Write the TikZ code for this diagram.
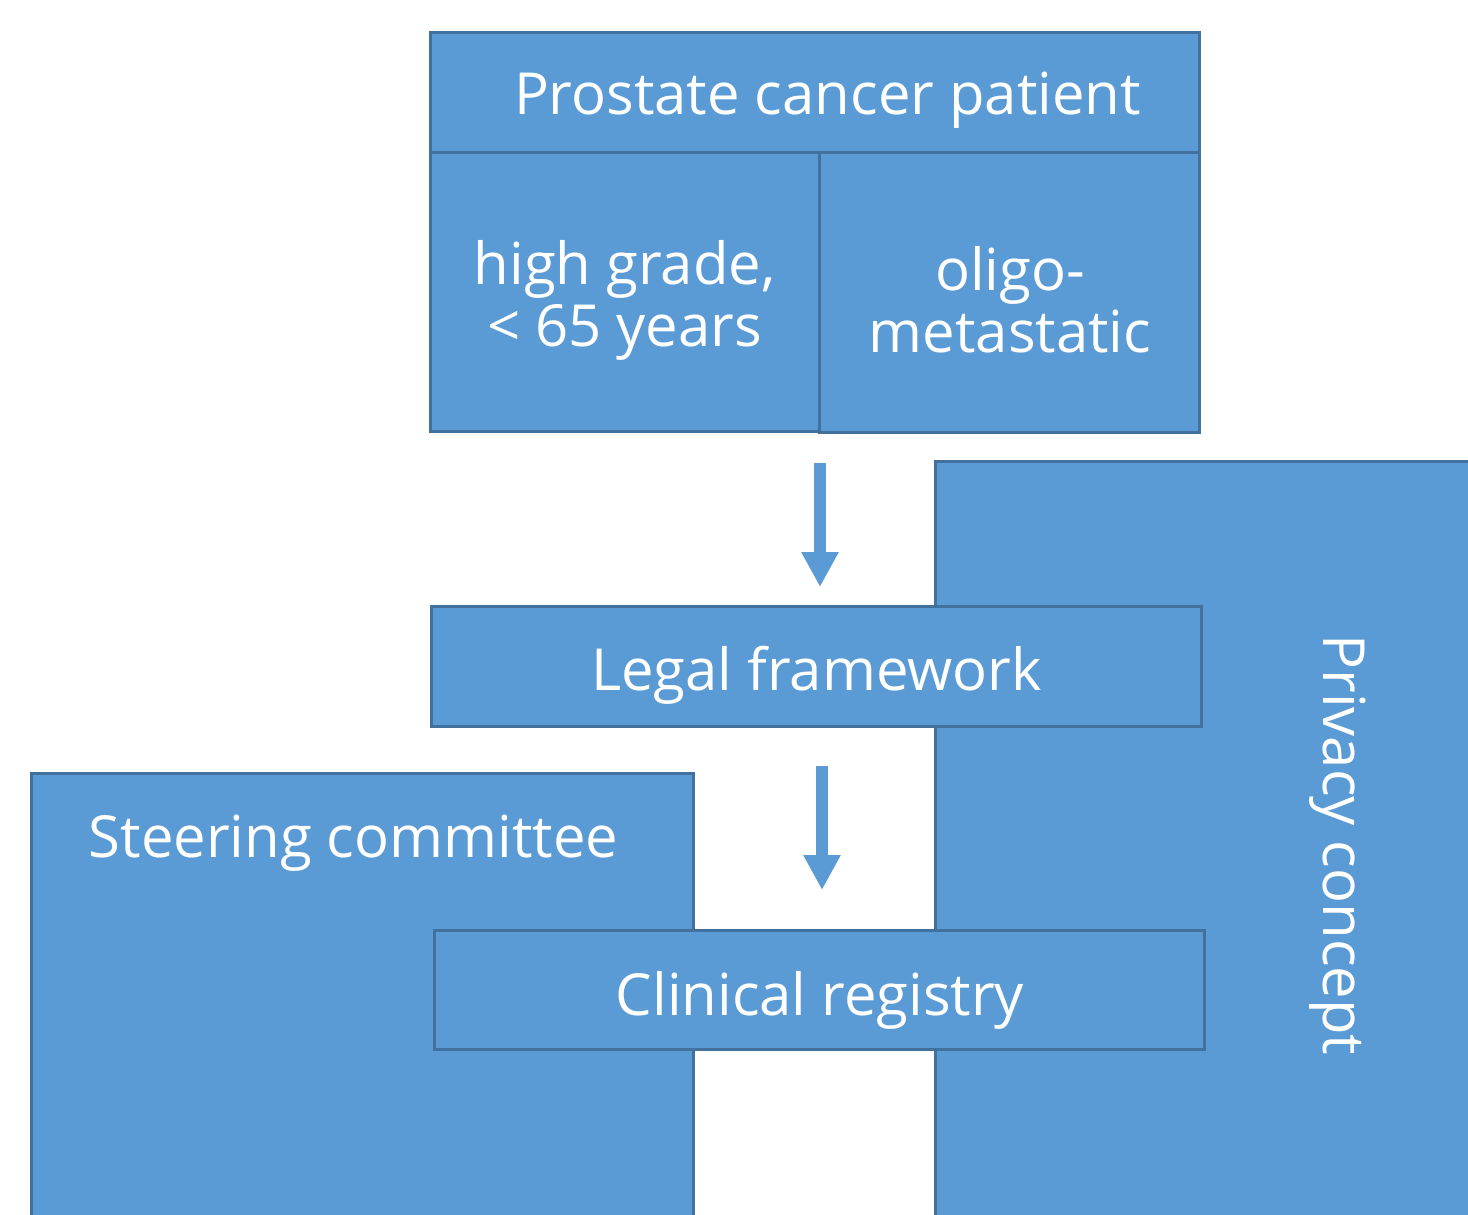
\documentclass[tikz,border=0pt]{standalone}
\usepackage{fontspec}
\setmainfont{Open Sans}
\usetikzlibrary{arrows.meta}
\definecolor{boxfill}{HTML}{5B9BD5}
\definecolor{boxline}{HTML}{41719C}
\begin{document}
\begin{tikzpicture}[x=0.5pt,y=-0.5pt,
  box/.style={draw=boxline,fill=boxfill,line width=1.5pt,inner sep=0pt,rectangle},
  lbl/.style={text=white,inner sep=0pt,align=center,font=\fontsize{29}{31}\selectfont},
  flow/.style={draw=boxfill,line width=6pt,-{Triangle[width=17.5pt,length=17.5pt]}}]
\useasboundingbox (0,0) rectangle (1468,1215);
\clip (0,0) rectangle (1468,1215);
% boxes
\node[box,minimum width=384.5pt,minimum height=60pt] (top) at (814.5,92) {};
\node[box,minimum width=194.5pt,minimum height=139.5pt] (hg) at (624.5,291.5) {};
\node[box,minimum width=190pt,minimum height=140pt] (om) at (1009,292) {};
\node[box,minimum width=277.5pt,minimum height=389.5pt] (priv) at (1212.5,850.5) {};
\node[box,minimum width=385pt,minimum height=60pt] (legal) at (816,666) {};
\node[box,minimum width=331pt,minimum height=233.5pt] (steer) at (362,1006.5) {};
\node[box,minimum width=385pt,minimum height=59.5pt] (clin) at (819,989.5) {};
% texts
\node[lbl] (ttop) at (827.5,100) {Prostate cancer patient};
\node[lbl] (thg) at (624.5,300) {high grade,\\< 65 years};
\node[lbl] (tom) at (1010,300) {oligo-\\metastatic};
\node[lbl] (tlegal) at (816.5,675) {Legal framework};
\node[lbl] (tclin) at (820,1000) {Clinical registry};
\node[lbl] (tsteer) at (353.5,843) {Steering committee};
\node[lbl,rotate=-90] (tpriv) at (1338,845) {Privacy concept};
% arrows
\coordinate (a1s) at (820,463);
\coordinate (a1e) at (820,587);
\coordinate (a2s) at (822,766);
\coordinate (a2e) at (822,890);
\draw[flow] (a1s) -- (a1e);
\draw[flow] (a2s) -- (a2e);
\end{tikzpicture}
\end{document}
